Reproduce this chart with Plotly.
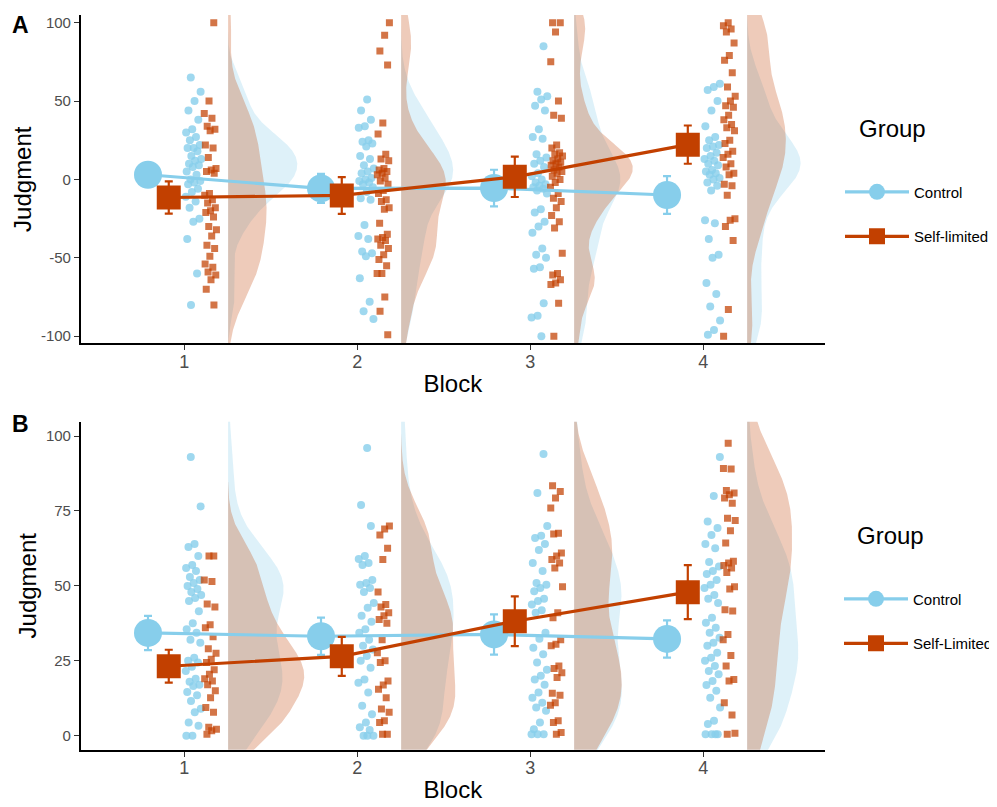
import numpy as np
import plotly.graph_objects as go

# ---------------- data ----------------
BLOCKS = [1, 2, 3, 4]
LABELS_A = ["Control", "Self-limited"]
LABELS_B = ["Control", "Self-Limited"]
Y_TICKS_A = [-100, -50, 0, 50, 100]
Y_TICKS_B = [0, 25, 50, 75, 100]

# Panel A raw judgments, one list per block
A_CONTROL = [
    [65, 56, 50, 44, 38, 32, 30, 27, 25, 22, 20, 20, 18, 15, 13, 12, 10, 9, 8, 5, 3, 0, -1, -2, -3, -6, -8, -11, -14, -18, -25, -27, -38, -60, -80],
    [51, 44, 38, 34, 33, 25, 24, 23, 21, 15, 13, 9, 7, 5, 4, 1, 0, -1, -2, -3, -5, -8, -12, -13, -29, -36, -38, -46, -47, -49, -63, -78, -84, -89],
    [85, 56, 53, 51, 47, 44, 32, 27, 26, 16, 14, 12, 10, 8, 4, 2, 0, -2, -3, -4, -5, -6, -7, -9, -19, -21, -27, -30, -34, -44, -48, -50, -56, -57, -79, -87, -88, -100],
    [61, 59, 57, 50, 44, 34, 27, 25, 22, 21, 20, 17, 15, 13, 12, 10, 9, 6, 5, 4, 3, 1, 0, -2, -4, -7, -26, -28, -38, -48, -50, -66, -73, -81, -90, -96, -99],
]
A_SELF = [
    [100, 50, 42, 39, 34, 32, 31, 22, 20, 14, 7, 6, 5, 4, -9, -10, -13, -15, -18, -20, -21, -24, -30, -32, -36, -42, -44, -49, -54, -56, -59, -61, -64, -70, -80],
    [100, 92, 82, 73, 36, 29, 16, 13, 12, 7, 6, 5, 4, 3, 1, -1, -3, -7, -9, -13, -14, -18, -19, -28, -35, -37, -38, -39, -42, -44, -48, -51, -55, -60, -60, -75, -84, -99],
    [100, 100, 94, 75, 50, 41, 39, 22, 20, 17, 16, 15, 13, 12, 11, 10, 9, 8, 6, 5, 4, 2, 0, -2, -5, -9, -12, -14, -18, -23, -27, -31, -47, -60, -61, -64, -66, -67, -79, -100],
    [100, 98, 96, 94, 87, 79, 76, 68, 59, 53, 50, 47, 46, 41, 38, 35, 33, 31, 25, 23, 18, 16, 14, 10, 8, 4, 3, -3, -4, -10, -25, -26, -30, -39, -83, -100],
]
A_CONTROL_MEAN = [3.0, -5.7, -5.5, -9.9]
A_CONTROL_SE = [6.0, 9.3, 11.7, 12.0]
A_SELF_MEAN = [-11.5, -10.2, 1.7, 22.2]
A_SELF_SE = [10.3, 11.7, 12.9, 12.2]

# Panel B raw judgments, one list per block
B_CONTROL = [
    [93, 76.5, 64, 63, 60, 57, 56, 55, 53, 52, 51, 50, 49, 48, 47, 46, 45, 41.5, 37.5, 35.5, 34.4, 32, 31, 26, 25, 24.4, 23, 21.6, 19, 18, 17, 16.6, 14.6, 13.5, 11.6, 9, 7.8, 4.4, 3.3, 0, 0],
    [96, 77, 70, 60, 59, 57.6, 57, 52, 51, 50.4, 49.3, 48, 44.3, 42.7, 40, 38, 35.5, 34.4, 32, 30, 28.8, 26.6, 25, 22.7, 18.8, 17.7, 14.4, 10, 7.2, 4.4, 2.8, 1.9, 0, 0, 0],
    [94, 81, 70, 66.7, 66, 64, 62, 57.6, 55, 51, 50.4, 49.3, 48.2, 45.7, 45, 43.8, 41.9, 41, 34.4, 32.4, 29.4, 27.2, 24.4, 22, 20, 18.8, 17, 14.4, 12.7, 11, 9.4, 8.3, 4.4, 2.2, 0.5, 0.5, 0.5],
    [93, 80, 71.5, 69.3, 67, 64, 62.6, 58, 56.5, 55, 54, 52, 50.4, 49.3, 47, 45.7, 44.3, 39.4, 37.7, 36, 34.4, 32.7, 31, 30, 27.7, 26, 25, 23.3, 21.6, 20.5, 18.3, 16.9, 15, 12.7, 9.4, 5, 3.9, 0.5, 0.5, 0.5, 0.5],
]
B_SELF = [
    [60, 60, 52, 51.5, 44, 43, 37, 36, 33, 29, 27.5, 25.5, 24.4, 22, 20.5, 19, 18.3, 17, 15, 12.7, 9.4, 7.8, 2.8, 2.2, 1.7, 0.5],
    [70, 69, 67, 62.6, 58.8, 48, 43.8, 43, 41, 40, 38.8, 37.5, 32, 27.7, 25, 24.4, 18.3, 16.9, 15.5, 12.7, 8.9, 7.8, 5, 4.4, 0.5, 0.5],
    [83.4, 81.5, 79.3, 76, 67.6, 67.3, 61, 60, 58.8, 57.6, 56, 49.7, 41, 39.4, 32, 30.5, 30, 23.3, 22.4, 21, 19.4, 14.2, 13.5, 11, 10.2, 5, 4.4, 1.1, 0.5],
    [97.6, 89.2, 89, 81.8, 81, 80.4, 79.3, 77.6, 72.6, 71.8, 68.4, 64.3, 58.2, 57.6, 56.8, 56, 54.5, 49.7, 49, 42, 41.6, 33.8, 32, 26.8, 23.3, 18.8, 18.3, 11, 6.9, 0.5, 0.8],
]
B_CONTROL_MEAN = [34.3, 33.2, 33.8, 32.3]
B_CONTROL_SE = [5.7, 6.2, 6.7, 6.2]
B_SELF_MEAN = [23.2, 26.5, 38.2, 47.9]
B_SELF_SE = [5.5, 6.5, 8.3, 9.0]

# ---------------- styling ----------------
CTRL = "#87CEEB"
SELF = "#C24000"
CTRL_PT = "rgba(135,206,235,0.8)"
SELF_PT = "rgba(194,64,0,0.72)"
CTRL_FILL = "rgba(135,206,235,0.28)"
SELF_FILL = "rgba(194,64,0,0.27)"
FONT = "Liberation Sans, Arial, Helvetica, sans-serif"
TICK_GREY = "#4D4D4D"

NUDGE_CTRL_MEAN = -0.21
NUDGE_SELF_MEAN = -0.09
JIT_CTRL = (0.052, 0.046)   # centre, half width
JIT_SELF = (0.150, 0.036)
DENS_BASE = 0.253

# page geometry (the page body adds an 8 px offset); the figure is a little
# wider than the window so the legends are never pushed inwards
OFF = 8
W, H = 1012, 807 - OFF


def px(x):
    return (x - OFF) / W


def py(y):
    return 1 - (y - OFF) / H


def bw_nrd0(x):
    x = np.asarray(x, float)
    sd = x.std(ddof=1)
    q75, q25 = np.percentile(x, [75, 25])
    iqr = (q75 - q25) / 1.34
    lo = min(sd, iqr) if iqr > 0 else sd
    return 0.9 * lo * len(x) ** -0.2


def kde(x, adjust=1.0):
    x = np.asarray(x, float)
    bw = bw_nrd0(x) * adjust
    grid = np.linspace(x.min() - 3 * bw, x.max() + 3 * bw, 512)
    z = (grid[:, None] - x[None, :]) / bw
    d = np.exp(-0.5 * z ** 2).sum(1) / (len(x) * bw * np.sqrt(2 * np.pi))
    return grid, d


def jitter_x(block, n, centre, half, phase):
    u = (np.arange(n) * 0.6180339887 + phase) % 1.0
    return block + centre + (u - 0.5) * 2 * half


fig = go.Figure()


def add_panel(xa, ya, legend, ctrl_raw, self_raw, cm, cse, sm, sse, labels, wmax):
    dens = {}
    dmax = 0
    for gname, raw in (("c", ctrl_raw), ("s", self_raw)):
        for b, vals in zip(BLOCKS, raw):
            g, d = kde(vals)
            dens[(gname, b)] = (g, d)
            dmax = max(dmax, d.max())
    for gname, fillc in (("c", CTRL_FILL), ("s", SELF_FILL)):
        for b in BLOCKS:
            g, d = dens[(gname, b)]
            base = b + DENS_BASE
            xs = np.concatenate([[base], base + wmax * d / dmax, [base]])
            ys = np.concatenate([[g[0]], g, [g[-1]]])
            fig.add_trace(go.Scatter(
                x=xs, y=ys, mode="lines", fill="toself", fillcolor=fillc,
                line=dict(width=0, color=fillc), hoverinfo="skip",
                showlegend=False, xaxis=xa, yaxis=ya))
    for raw, col, sym, size, jit, ph in (
            (ctrl_raw, CTRL_PT, "circle", 8, JIT_CTRL, 0.13),
            (self_raw, SELF_PT, "square", 7, JIT_SELF, 0.57)):
        xs, ys = [], []
        for b, vals in zip(BLOCKS, raw):
            xs.extend(jitter_x(b, len(vals), jit[0], jit[1], ph + 0.21 * b))
            ys.extend(vals)
        fig.add_trace(go.Scatter(
            x=xs, y=ys, mode="markers",
            marker=dict(symbol=sym, size=size, color=col, line=dict(width=0)),
            showlegend=False, hoverinfo="y", xaxis=xa, yaxis=ya))
    for m, se, col, sym, size, nud, lab in (
            (cm, cse, CTRL, "circle", 28, NUDGE_CTRL_MEAN, labels[0]),
            (sm, sse, SELF, "square", 24, NUDGE_SELF_MEAN, labels[1])):
        fig.add_trace(go.Scatter(
            x=[b + nud for b in BLOCKS], y=m, mode="lines+markers", name=lab,
            legendgroup=lab + legend,
            line=dict(color=col, width=3.2),
            marker=dict(symbol=sym, size=size, color=col, line=dict(width=0)),
            error_y=dict(type="data", array=se, visible=True, color=col,
                         thickness=2.2, width=4),
            legend=legend, xaxis=xa, yaxis=ya))


add_panel("x", "y", "legend", A_CONTROL, A_SELF, A_CONTROL_MEAN, A_CONTROL_SE,
          A_SELF_MEAN, A_SELF_SE, LABELS_A, 0.40)
add_panel("x2", "y2", "legend2", B_CONTROL, B_SELF, B_CONTROL_MEAN, B_CONTROL_SE,
          B_SELF_MEAN, B_SELF_SE, LABELS_B, 0.44)

XDOM = [px(80.7), px(825)]
YDOM_A = [py(343.3), py(14)]
YDOM_B = [py(750.7), py(421.7)]
XRANGE = [0.401, 4.703]

xax = dict(range=XRANGE, domain=XDOM, tickvals=BLOCKS, ticktext=[str(b) for b in BLOCKS],
           showgrid=False, zeroline=False, showline=True, linecolor="black", linewidth=1.5,
           ticks="outside", ticklen=5, tickcolor="#333333", tickwidth=1.2,
           ticklabelstandoff=-4,
           tickfont=dict(size=18, color=TICK_GREY, family=FONT),
           title=dict(text="Block", font=dict(size=24, color="black", family=FONT), standoff=4))
yax = dict(showgrid=False, zeroline=False, showline=True, linecolor="black", linewidth=1.5,
           ticks="outside", ticklen=5, tickcolor="#333333", tickwidth=1.2,
           tickfont=dict(size=15, color=TICK_GREY, family=FONT),
           title=dict(text="Judgment", font=dict(size=24, color="black", family=FONT), standoff=3))

leg_common = dict(xanchor="left", yanchor="top", bgcolor="rgba(0,0,0,0)",
                  font=dict(size=15, color="black", family=FONT),
                  traceorder="grouped", tracegroupgap=22, itemwidth=64)

title_font = dict(size=24, color="black", family=FONT)

fig.update_layout(
    width=W, height=H, margin=dict(l=0, r=0, t=0, b=0),
    paper_bgcolor="white", plot_bgcolor="white",
    font=dict(family=FONT),
    xaxis=dict(anchor="y", **xax),
    yaxis=dict(anchor="x", domain=YDOM_A, range=[-104.6, 104.9], tickvals=Y_TICKS_A,
               ticktext=[str(v) for v in Y_TICKS_A], **yax),
    xaxis2=dict(anchor="y2", **xax),
    yaxis2=dict(anchor="x2", domain=YDOM_B, range=[-4.7, 104.8], tickvals=Y_TICKS_B,
                ticktext=[str(v) for v in Y_TICKS_B], **yax),
    legend=dict(x=px(840), y=py(175), **leg_common),
    legend2=dict(x=px(839), y=py(583), **leg_common),
    annotations=[
        dict(text="<b>A</b>", x=px(20), y=py(24), xref="paper", yref="paper",
             xanchor="center", yanchor="middle",
             showarrow=False, font=dict(size=23, color="black", family=FONT)),
        dict(text="<b>B</b>", x=px(20), y=py(424), xref="paper", yref="paper",
             xanchor="center", yanchor="middle",
             showarrow=False, font=dict(size=23, color="black", family=FONT)),
        dict(text="Group", x=px(857), y=py(128), xref="paper", yref="paper",
             xanchor="left", yanchor="middle", showarrow=False, font=title_font),
        dict(text="Group", x=px(855), y=py(536), xref="paper", yref="paper",
             xanchor="left", yanchor="middle", showarrow=False, font=title_font),
    ],
)

fig.write_html("out.html")
